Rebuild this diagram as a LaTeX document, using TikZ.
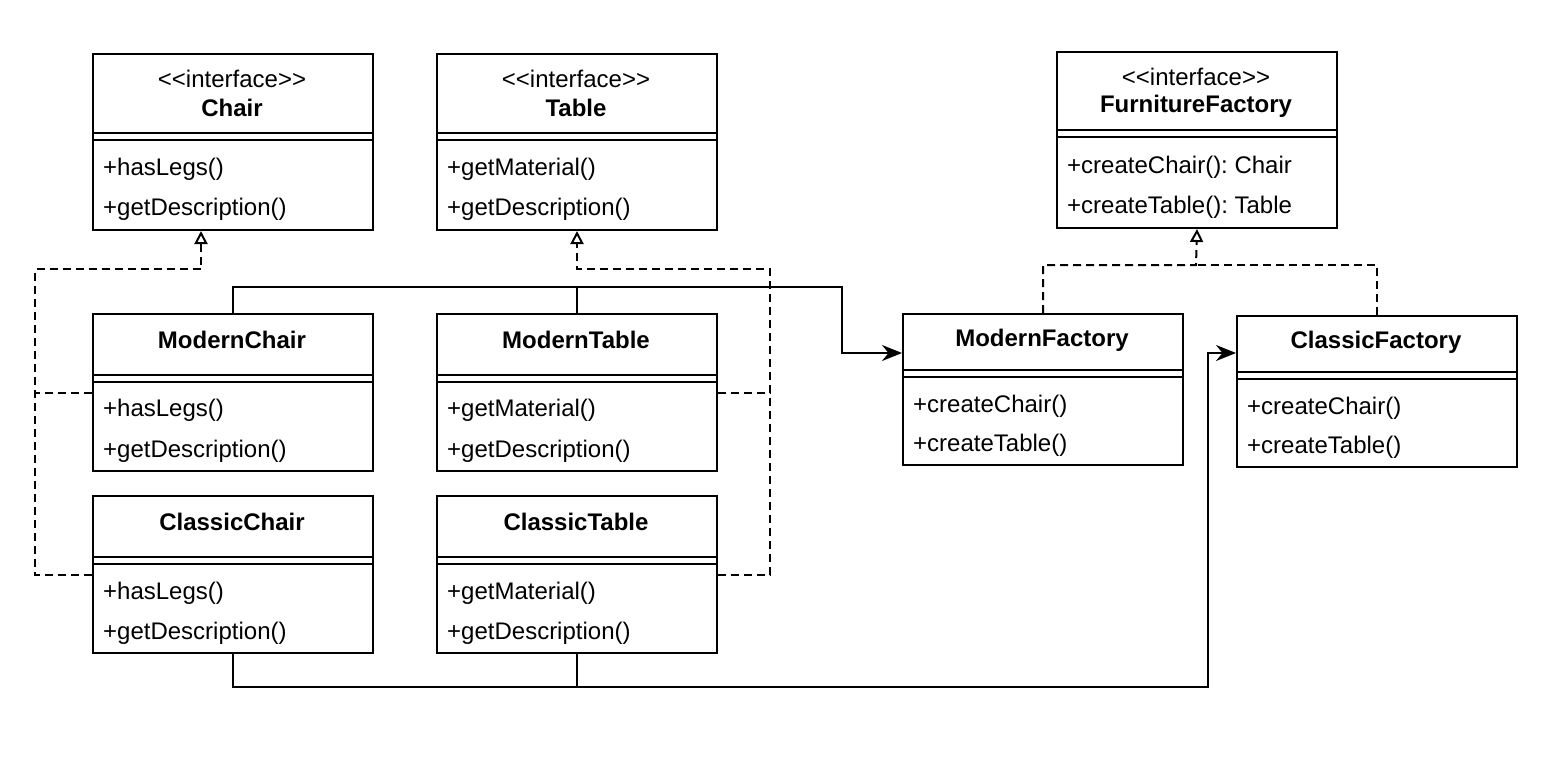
\documentclass[tikz,border=0pt]{standalone}
\usepackage{fontspec}
\setmainfont{Liberation Sans}
\usetikzlibrary{arrows.meta}
\frenchspacing

\newcommand{\stereo}[1]{<\kern0pt<#1>\kern0pt>}

\tikzset{
	classbox/.style={draw, line width=2pt, minimum width=280pt, inner sep=0pt, anchor=north west},
	title/.style={inner sep=0pt, font=\fontsize{24}{28}\selectfont\bfseries},
	member/.style={inner sep=0pt, anchor=west},
	realize/.style={line width=2pt, dash pattern=on 8pt off 5pt, -{Triangle[open, length=13pt, width=13pt, line width=2pt]}},
	dashline/.style={line width=2pt, dash pattern=on 8pt off 5pt},
	uses/.style={line width=2pt, -{Stealth[length=20pt, width=16pt]}},
	plain/.style={line width=2pt}
}

\begin{document}
\begin{tikzpicture}[x=1pt, y=-1pt, font=\fontsize{24}{28}\selectfont]
		\useasboundingbox (0,0) rectangle (1550,768);
		% Class boxes
		%% Interfaces
		\node[classbox, minimum height=176pt] (Chair) at (92,53) {};
		\node[classbox, minimum height=176pt] (Table) at (436,53) {};
		\node[classbox, minimum height=176pt] (FurnitureFactory) at (1056,51) {};
		%% Products
		\node[classbox, minimum height=157pt] (ModernChair) at (92,313) {};
		\node[classbox, minimum height=157pt] (ModernTable) at (436,313) {};
		\node[classbox, minimum height=157pt] (ClassicChair) at (92,495) {};
		\node[classbox, minimum height=157pt] (ClassicTable) at (436,495) {};
		%% Factories
		\node[classbox, minimum height=151pt] (ModernFactory) at (902,313) {};
		\node[classbox, minimum height=151pt] (ClassicFactory) at (1236,315) {};
		% Separators
		\foreach \cls/\sep in {Chair/80, Table/80, FurnitureFactory/79, ModernChair/62, ModernTable/62, ClassicChair/62, ClassicTable/62, ModernFactory/57, ClassicFactory/57} {
			\draw[plain] ([yshift=-\sep pt]\cls.north west) -- ([yshift=-\sep pt]\cls.north east);
			\draw[plain] ([yshift=-\sep pt-7pt]\cls.north west) -- ([yshift=-\sep pt-7pt]\cls.north east);
		}
		% Headers
		\node[inner sep=0pt] (ChairStereo) at (232,79) {\stereo{interface}};
		\node[title] (ChairName) at (232,108) {Chair};
		\node[inner sep=0pt] (TableStereo) at (576,79) {\stereo{interface}};
		\node[title] (TableName) at (576,108) {Table};
		\node[inner sep=0pt] (FactoryStereo) at (1196,77) {\stereo{interface}};
		\node[title] (FactoryName) at (1196,106) {FurnitureFactory};
		\node[title] (ModernChairName) at (232,340) {ModernChair};
		\node[title] (ModernTableName) at (576,340) {ModernTable};
		\node[title] (ClassicChairName) at (232,522) {ClassicChair};
		\node[title] (ClassicTableName) at (576,522) {ClassicTable};
		\node[title] (ModernFactoryName) at (1042,340) {ModernFactory};
		\node[title] (ClassicFactoryName) at (1376,342) {ClassicFactory};
		% Members
		\node[member] (m1) at (103,169) {+hasLegs()};
		\node[member] (m2) at (103,209) {+getDescription()};
		\node[member] (m3) at (447,169) {+getMaterial()};
		\node[member] (m4) at (447,209) {+getDescription()};
		\node[member] (m5) at (1067,167) {+createChair(): Chair};
		\node[member] (m6) at (1067,207) {+createTable(): Table};
		\node[member] (m7) at (103,410) {+hasLegs()};
		\node[member] (m8) at (103,451) {+getDescription()};
		\node[member] (m9) at (447,410) {+getMaterial()};
		\node[member] (m10) at (447,451) {+getDescription()};
		\node[member] (m11) at (103,593) {+hasLegs()};
		\node[member] (m12) at (103,633) {+getDescription()};
		\node[member] (m13) at (447,593) {+getMaterial()};
		\node[member] (m14) at (447,633) {+getDescription()};
		\node[member] (m15) at (913,406) {+createChair()};
		\node[member] (m16) at (913,445) {+createTable()};
		\node[member] (m17) at (1247,408) {+createChair()};
		\node[member] (m18) at (1247,447) {+createTable()};
		% Connectors
		%% Realizations
		\coordinate (cj) at (35,269);
		\coordinate (tj) at (770,269);
		\coordinate (fj) at (1196,265);
		\draw[realize] (ModernChair.west) -| (cj) -| ([xshift=-32pt]Chair.south);
		\draw[dashline] (ClassicChair.west) -| (cj);
		\draw[realize] (ModernTable.east) -| (tj) -| (Table.south);
		\draw[dashline] (ClassicTable.east) -| (tj);
		\draw[realize] (ModernFactory.north) |- (fj) -- (FurnitureFactory.south);
		\draw[dashline] (ClassicFactory.north) |- (fj);
		%% Products to factories
		\coordinate (mbend) at (842,287);
		\coordinate (mfin) at ([yshift=36.5pt]ModernFactory.west);
		\coordinate (cbend) at (1208,687);
		\coordinate (cfin) at ([yshift=38.5pt]ClassicFactory.west);
		\draw[uses] (ModernChair.north) |- (mbend) |- (mfin);
		\draw[plain] (ModernTable.north) -- (ModernTable.north |- mbend);
		\draw[uses] (ClassicChair.south) |- (cbend) |- (cfin);
		\draw[plain] (ClassicTable.south) -- (ClassicTable.south |- cbend);
	\end{tikzpicture}
\end{document}
